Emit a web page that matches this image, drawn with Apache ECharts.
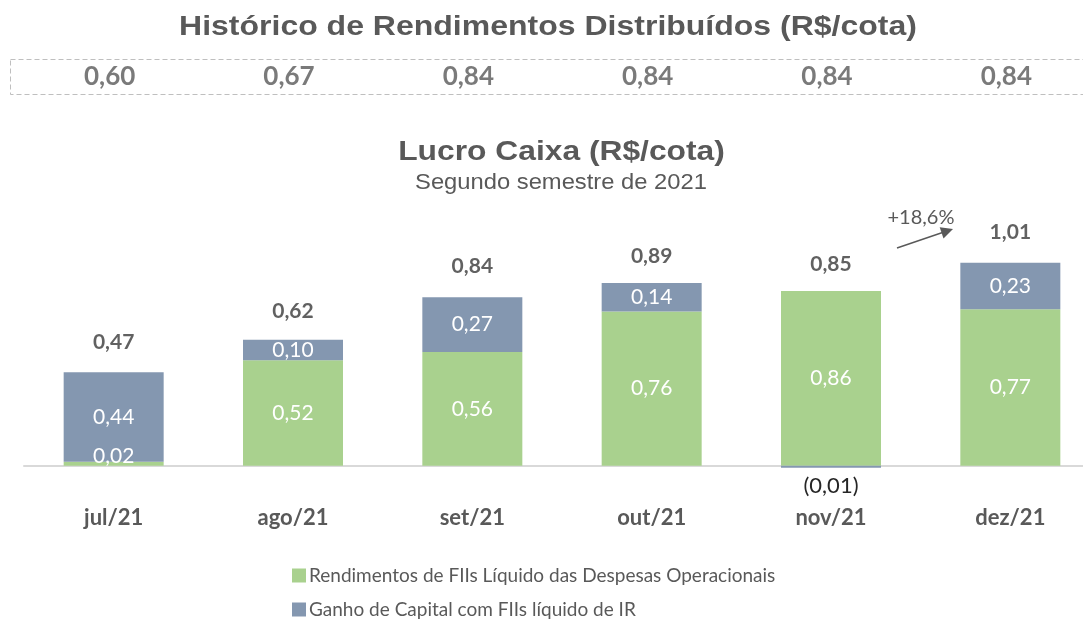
<!DOCTYPE html>
<html>
<head>
<meta charset="utf-8">
<script src="https://cdn.jsdelivr.net/npm/echarts@6/dist/echarts.min.js"></script>
<style>html,body{margin:0;padding:0;background:#fff;overflow:hidden;}#c{width:1100px;height:621px;}</style>
</head>
<body>
<div id="c"></div>
<script>
const categories = ['jul/21', 'ago/21', 'set/21', 'out/21', 'nov/21', 'dez/21'];
const historico = [0.60, 0.67, 0.84, 0.84, 0.84, 0.84];
const rendimentos = [0.02, 0.52, 0.56, 0.76, 0.86, 0.77];
const ganho = [0.44, 0.10, 0.27, 0.14, -0.01, 0.23];
const totais = [0.47, 0.62, 0.84, 0.89, 0.85, 1.01];
const seriesNames = ['Rendimentos de FIIs Líquido das Despesas Operacionais', 'Ganho de Capital com FIIs líquido de IR'];

const fmt = v => {
  const s = Math.abs(v).toFixed(2).replace('.', ',');
  return v < 0 ? '(' + s + ')' : s;
};
const LBL = 'Lato, "Noto Sans", sans-serif';
const ARIAL = '"Liberation Sans", Arial, sans-serif';
const GREY = '#595959';

const greenData = rendimentos.map(v => {
  if (v < 0.05) return { value: v, label: { position: 'top', distance: -5 } };
  return v;
});
const blueData = ganho.map(v => {
  if (v < 0) return { value: v, label: { position: 'bottom', distance: 7, color: '#262626', fontSize: 22 } };
  return v;
});

const chart = echarts.init(document.getElementById('c'), null, { renderer: 'canvas' });
chart.setOption({
  animation: false,
  backgroundColor: '#fff',
  graphic: [
    { type: 'text', x: 548, y: 27, scaleX: 1.143, silent: true,
      style: { text: 'Histórico de Rendimentos Distribuídos (R$/cota)', font: 'bold 28px ' + ARIAL, fill: GREY, align: 'center', verticalAlign: 'middle' } },
    { type: 'text', x: 561.5, y: 152, scaleX: 1.135, silent: true,
      style: { text: 'Lucro Caixa (R$/cota)', font: 'bold 28px ' + ARIAL, fill: GREY, align: 'center', verticalAlign: 'middle' } },
    { type: 'text', x: 561, y: 183, scaleX: 1.08, silent: true,
      style: { text: 'Segundo semestre de 2021', font: '22px ' + ARIAL, fill: GREY, align: 'center', verticalAlign: 'middle' } },
    { type: 'rect', shape: { x: 10.5, y: 59.5, width: 1100, height: 35 },
      style: { fill: 'none', stroke: '#bfbfbf', lineWidth: 1, lineDash: [5, 3] }, silent: true },
    { type: 'line', shape: { x1: 897, y1: 248, x2: 944, y2: 232 },
      style: { stroke: GREY, lineWidth: 1.5 }, silent: true },
    { type: 'polygon', shape: { points: [[953, 229], [943.5, 238.5], [939.7, 227.2]] },
      style: { fill: GREY }, silent: true },
    { type: 'text', x: 921, y: 218, silent: true,
      style: { text: '+18,6%', font: '20px ' + LBL, fill: GREY, align: 'center', verticalAlign: 'middle' } }
  ],
  legend: {
    orient: 'vertical', left: 287, top: 561, height: 80, itemGap: 15, itemWidth: 14, itemHeight: 14,
    icon: 'rect', data: seriesNames,
    textStyle: { fontFamily: LBL, fontSize: 19, color: GREY, padding: [0, 0, 0, -2] }
  },
  grid: [
    { left: 24, width: 1076, top: 222, height: 284.4 },
    { left: 24, width: 1076, top: 59, height: 36 }
  ],
  xAxis: [
    { type: 'category', data: categories, gridIndex: 0,
      axisLine: { onZero: true, lineStyle: { color: '#d9d9d9', width: 2 } },
      axisTick: { show: false },
      axisLabel: { margin: 1, fontFamily: LBL, fontSize: 22, fontWeight: 'bold', color: GREY } },
    { type: 'category', data: categories, gridIndex: 1, show: false }
  ],
  yAxis: [
    { type: 'value', gridIndex: 0, min: -0.2, max: 1.2, show: false, splitLine: { show: false } },
    { type: 'value', gridIndex: 1, min: 0, max: 1, show: false, splitLine: { show: false } }
  ],
  series: [
    { name: seriesNames[0], type: 'bar', stack: 'lc', barWidth: 100, data: greenData,
      itemStyle: { color: '#A9D18E' },
      label: { show: true, position: 'inside', color: '#fff', fontFamily: LBL, fontSize: 21, formatter: p => fmt(p.value) } },
    { name: seriesNames[1], type: 'bar', stack: 'lc', barWidth: 100, data: blueData,
      itemStyle: { color: '#8497B0' },
      label: { show: true, position: 'inside', color: '#fff', fontFamily: LBL, fontSize: 21, formatter: p => fmt(p.value) } },
    { name: 'Total', type: 'scatter', symbolSize: 0, data: totais, silent: true,
      label: { show: true, position: 'top', distance: 18, color: '#3a3a3a', fontFamily: LBL, fontSize: 21, fontWeight: 'bold', formatter: p => fmt(p.value) } },
    { name: 'Histórico', type: 'scatter', xAxisIndex: 1, yAxisIndex: 1, symbolSize: 0, silent: true,
      data: historico.map(() => 0.5),
      label: { show: true, position: 'inside', offset: [-4, 0], color: GREY, fontFamily: LBL, fontSize: 26, fontWeight: 'bold',
        formatter: p => fmt(historico[p.dataIndex]) } }
  ]
});
</script>
</body>
</html>
